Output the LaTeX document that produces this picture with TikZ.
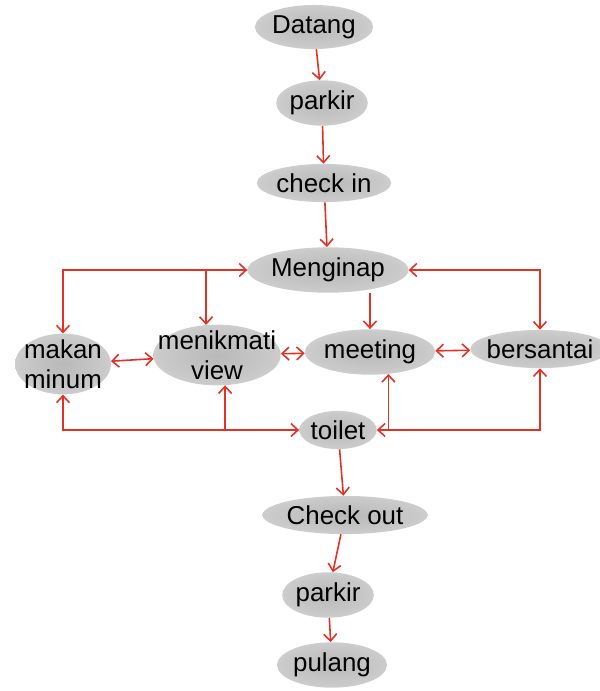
\documentclass[tikz,border=0pt]{standalone}
\usepackage{fontspec}
\setmainfont{Liberation Sans}
\usetikzlibrary{arrows.meta,shapes.geometric}

\colorlet{blobA}{gray!55}
\colorlet{blobB}{gray!42}
\colorlet{blobC}{gray!24}
\definecolor{flowred}{RGB}{226,50,38}
\pgfdeclareradialshading{blob}{\pgfpoint{0bp}{0bp}}{color(0bp)=(blobA); color(22bp)=(blobB); color(40bp)=(blobC); color(50bp)=(white)}

\tikzset{
  stepblob/.style={ellipse, shading=blob, inner xsep=0pt, inner ysep=4pt, font=\fontsize{26}{30}\selectfont, align=center},
  flow/.style={draw=flowred, line width=1.6pt, -{Straight Barb[length=7pt,width=13pt]}},
  both/.style={flow, {Straight Barb[length=7pt,width=13pt]}-{Straight Barb[length=7pt,width=13pt]}}
}

\begin{document}
\begin{tikzpicture}[x=1bp, y=-1bp]
	
	\useasboundingbox (0,0) rectangle (600,691);
	
	\node[stepblob] (dat) at (314,27) {Datang};
	\node[stepblob] (park1) at (322,103) {parkir};
	\node[stepblob] (cin) at (324,183) {check in};
	\node[stepblob] (inap) at (328,270) {Menginap};
	
	\node[stepblob, inner ysep=-3pt, inner xsep=-5pt] (makan) at (63,364) {makan\\minum};
	\node[stepblob, inner ysep=-3pt, inner xsep=-14pt] (view) at (217,355) {menikmati\\view};
	\node[stepblob] (meet) at (370,352) {meeting};
	\node[stepblob, inner xsep=-4pt] (santai) at (540,349) {bersantai};
	
	\node[stepblob] (toilet) at (338,430) {toilet};
	\node[stepblob] (cout) at (345,515) {Check out};
	\node[stepblob] (park2) at (328,595) {parkir};
	\node[stepblob] (pulang) at (332,665) {pulang};
	
	\draw[flow] (dat) -- (park1);
	\draw[flow] (park1) -- (cin);
	\draw[flow] (cin) -- (inap);
	\draw[flow] (meet.north |- inap.-62) -- (meet.north);
	
	\draw[both] (makan) |- (inap);
	\draw[flow] (view.110 |- inap.west) -- (view.110);
	\draw[both] (santai) |- (inap);
	
	\draw[both] (makan) -- (view);
	\draw[both] (view) -- (meet);
	\draw[both] (meet) -- (santai);
	
	\draw[both] (makan) |- (toilet);
	\draw[flow] (view.-75 |- toilet.west) -- (view.-75);
	\draw[both] (santai) |- (toilet);
	\draw[flow] (meet.-50 |- toilet.east) -- (meet.-50);
	
	\draw[flow] (toilet) -- (cout);
	\draw[flow] (cout) -- (park2);
	\draw[flow] (park2) -- (pulang);
	
\end{tikzpicture}
\end{document}
